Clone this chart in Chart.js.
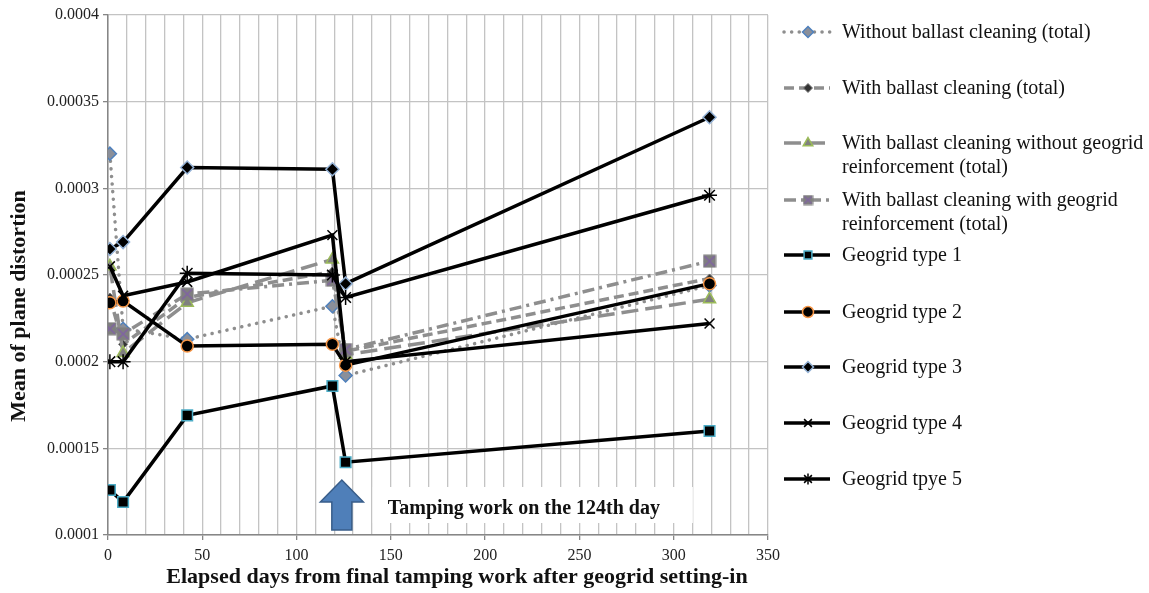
<!DOCTYPE html>
<html><head><meta charset="utf-8">
<script src="https://cdn.jsdelivr.net/npm/chart.js@4.4.1/dist/chart.umd.min.js"></script>
<style>html,body{margin:0;padding:0;background:#fff;overflow:hidden}
#wrap{position:relative;width:1149px;height:593px}</style></head>
<body><div id="wrap"><canvas id="c" width="1149" height="593"></canvas></div>
<script>
// ---- data ----
const days = [1, 8, 42, 119, 126, 319];
const withoutCleaning = [0.000320, 0.000219, 0.000213, 0.000232, 0.000192, 0.000244];
const withCleaning    = [0.000237, 0.000210, 0.000237, 0.000252, 0.000206, 0.000248];
const withoutGeogrid  = [0.000255, 0.000205, 0.000234, 0.000259, 0.000204, 0.000236];
const withGeogrid     = [0.000219, 0.000216, 0.000239, 0.000247, 0.000207, 0.000258];
const type1 = [0.000126, 0.000119, 0.000169, 0.000186, 0.000142, 0.000160];
const type2 = [0.000234, 0.000235, 0.000209, 0.000210, 0.000198, 0.000245];
const type3 = [0.000265, 0.000269, 0.000312, 0.000311, 0.000245, 0.000341];
const type4 = [0.000255, 0.000238, 0.000246, 0.000273, 0.000200, 0.000222];
const type5 = [0.000200, 0.000200, 0.000251, 0.000250, 0.000237, 0.000296];
const seriesNames = [
  ["Without ballast cleaning (total)"],
  ["With ballast cleaning (total)"],
  ["With ballast cleaning without geogrid", "reinforcement (total)"],
  ["With ballast cleaning with geogrid", "reinforcement (total)"],
  ["Geogrid type 1"], ["Geogrid type 2"], ["Geogrid type 3"], ["Geogrid type 4"], ["Geogrid tpye 5"]
];
const xTitle = "Elapsed days from final tamping work after geogrid setting-in";
const yTitle = "Mean of plane distortion";
const tampingDay = 124;
const tampingText = "Tamping work on the 124th day";
const xMin = 0, xMax = 350, xStep = 10, xLabelStep = 50;
const yMin = 0.0001, yMax = 0.0004, yStep = 0.00005;

// ---- marker images ----
function markerCanvas(size, draw){const c=document.createElement('canvas');c.width=c.height=size;draw(c.getContext('2d'),size);return c;}
const geoMarker = markerCanvas(14,(g,s)=>{g.fillStyle='#7f7f7f';g.fillRect(0.5,0.5,s-1,s-1);g.strokeStyle='#8064a2';g.lineWidth=1.6;g.beginPath();g.moveTo(2,2);g.lineTo(s-2,s-2);g.moveTo(s-2,2);g.lineTo(2,s-2);g.stroke();});
const geoMarkerSmall = markerCanvas(11,(g,s)=>{g.fillStyle='#7f7f7f';g.fillRect(0.5,0.5,s-1,s-1);g.strokeStyle='#8064a2';g.lineWidth=1.4;g.beginPath();g.moveTo(2,2);g.lineTo(s-2,s-2);g.moveTo(s-2,2);g.lineTo(2,s-2);g.stroke();});

const pts = arr => days.map((d,i)=>({x:d,y:arr[i]}));
const GRAY = '#8e8e8e';
const sets = [
  {data:pts(withoutCleaning), borderColor:GRAY, borderDash:[0.1,7.5], borderCapStyle:'round', borderWidth:3.5,
   pointStyle:'rectRot', pointRadius:6.5, pointBackgroundColor:'#8a8f9a', pointBorderColor:'#4f81bd', pointBorderWidth:1.5},
  {data:pts(withCleaning), borderColor:GRAY, borderDash:[10,5], borderWidth:3.5,
   pointStyle:'rectRot', pointRadius:4.5, pointBackgroundColor:'#333', pointBorderColor:'#777', pointBorderWidth:1},
  {data:pts(withoutGeogrid), borderColor:GRAY, borderDash:[17,7], borderWidth:3.5,
   pointStyle:'triangle', pointRadius:7, pointBackgroundColor:'#808080', pointBorderColor:'#9bbb59', pointBorderWidth:1.5},
  {data:pts(withGeogrid), borderColor:GRAY, borderDash:[12,5,3,5], borderWidth:3.5,
   pointStyle:geoMarker, pointRadius:7, pointBackgroundColor:'#808080', pointBorderColor:'#8064a2'},
  {data:pts(type1), borderColor:'#000', borderWidth:3.5,
   pointStyle:'rect', pointRadius:7.5, pointBackgroundColor:'#000', pointBorderColor:'#4bacc6', pointBorderWidth:1.5},
  {data:pts(type2), borderColor:'#000', borderWidth:3.5,
   pointStyle:'circle', pointRadius:6, pointBackgroundColor:'#000', pointBorderColor:'#f79646', pointBorderWidth:1.5},
  {data:pts(type3), borderColor:'#000', borderWidth:3.5,
   pointStyle:'rectRot', pointRadius:6.5, pointBackgroundColor:'#000', pointBorderColor:'#95b3d7', pointBorderWidth:1.5},
  {data:pts(type4), borderColor:'#000', borderWidth:3.5,
   pointStyle:'crossRot', pointRadius:7, pointBackgroundColor:'#000', pointBorderColor:'#000', pointBorderWidth:1.5},
  {data:pts(type5), borderColor:'#000', borderWidth:3.5,
   pointStyle:'star', pointRadius:7.5, pointBackgroundColor:'#000', pointBorderColor:'#000', pointBorderWidth:1.5}
];
sets.forEach((s,i)=>{s.label=seriesNames[i].join(' ');s.order=20-i;s.tension=0;s.fill=false;s.pointHoverRadius=s.pointRadius;s.pointHitRadius=4;});

const FONT = '"Liberation Serif", "Times New Roman", serif';
const legendY = [32, 88, 143, 200, 255, 312, 367, 423, 479];

const extras = {
  id:'extras',
  afterDatasetsDraw(chart){
    const ctx = chart.ctx, xs = chart.scales.x, ys = chart.scales.y;
    ctx.save();
    // tamping annotation
    const ax = xs.getPixelForValue(tampingDay);
    const ab = ys.getPixelForValue(yMin) - 5;
    ctx.beginPath();
    ctx.moveTo(ax-10, ab); ctx.lineTo(ax-10, ab-28); ctx.lineTo(ax-21.5, ab-28);
    ctx.lineTo(ax, ab-50); ctx.lineTo(ax+21.5, ab-28); ctx.lineTo(ax+10, ab-28); ctx.lineTo(ax+10, ab);
    ctx.closePath();
    ctx.fillStyle='#4f7fb9'; ctx.fill(); ctx.strokeStyle='#385d8a'; ctx.lineWidth=1.5; ctx.stroke();
    ctx.fillStyle='#fff'; ctx.fillRect(ax+31, ab-43, 320, 36);
    ctx.fillStyle='#111'; ctx.font='bold 20px '+FONT; ctx.textBaseline='middle'; ctx.textAlign='left';
    ctx.fillText(tampingText, ax+46, ab-21);
    ctx.restore();
  },
  afterDraw(chart){
    const ctx = chart.ctx;
    ctx.save();
    // axis titles
    ctx.fillStyle='#111'; ctx.font='bold 22px '+FONT; ctx.textAlign='center'; ctx.textBaseline='middle';
    ctx.fillText(xTitle, 457, 577);
    ctx.translate(19, 306); ctx.rotate(-Math.PI/2); ctx.fillText(yTitle, 0, 0);
    ctx.setTransform(1,0,0,1,0,0);
    // legend
    chart.data.datasets.forEach((ds,i)=>{
      const y = legendY[i];
      ctx.save();
      ctx.strokeStyle = ds.borderColor; ctx.lineWidth = ds.borderWidth;
      ctx.setLineDash(ds.borderDash || []); ctx.lineCap = ds.borderCapStyle || 'butt';
      ctx.beginPath(); ctx.moveTo(784, y); ctx.lineTo(830, y); ctx.stroke();
      ctx.setLineDash([]);
      ctx.fillStyle = ds.pointBackgroundColor; ctx.strokeStyle = ds.pointBorderColor; ctx.lineWidth = ds.pointBorderWidth || 1;
      const r = Math.min(ds.pointRadius, 5.5);
      const st = (ds.pointStyle === geoMarker) ? geoMarkerSmall : ds.pointStyle;
      Chart.helpers.drawPoint(ctx, {pointStyle: st, radius: r, rotation: 0, borderWidth: ds.pointBorderWidth||1}, 808, y);
      ctx.restore();
      ctx.fillStyle='#111'; ctx.font='20px '+FONT; ctx.textAlign='left'; ctx.textBaseline='middle';
      seriesNames[i].forEach((t,j)=>ctx.fillText(t, 842, y + 1 + j*23.5));
    });
    ctx.restore();
  }
};

new Chart(document.getElementById('c'), {
  type:'line',
  data:{datasets:sets},
  options:{
    responsive:false, animation:false, devicePixelRatio:1,
    layout:{padding:{top:15,right:381,left:0,bottom:0}},
    plugins:{legend:{display:false}, tooltip:{enabled:false}},
    scales:{
      x:{type:'linear', min:xMin, max:xMax,
         ticks:{stepSize:xStep, autoSkip:false, maxRotation:0, color:'#222', font:{family:FONT,size:16}, padding:6,
                callback:v=> (v % xLabelStep === 0) ? String(v) : ''},
         grid:{color:'#c3c3c3', lineWidth:1.3, tickLength:5, tickColor:c=> (c.tick && c.tick.value % xLabelStep===0) ? '#868686' : 'rgba(0,0,0,0)'},
         border:{color:'#868686', width:1.5},
         afterFit:s=>{s.height=58;}},
      y:{type:'linear', min:yMin, max:yMax,
         ticks:{stepSize:yStep, color:'#222', font:{family:FONT,size:16}, padding:4,
                callback:v=> (+v.toFixed(6)).toString().replace(/^(\d)e-(\d+)$/, (m,a,b)=>'0.'+'0'.repeat(b-1)+a)},
         grid:{color:'#c3c3c3', lineWidth:1.3, tickLength:5, tickColor:'#868686'},
         border:{color:'#868686', width:1.5},
         afterFit:s=>{s.width=108;}}
    }
  },
  plugins:[extras]
});
</script></body></html>
